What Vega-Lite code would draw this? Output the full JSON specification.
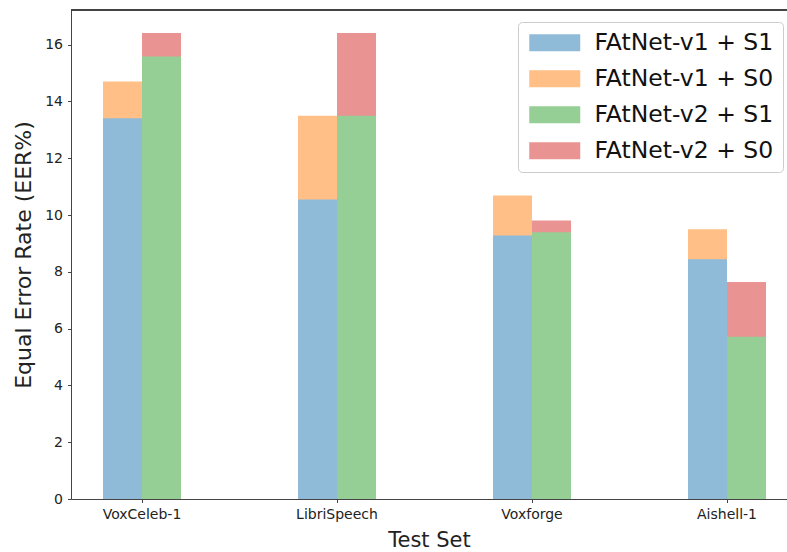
{
  "$schema": "https://vega.github.io/schema/vega-lite/v6.json",
  "autosize": "none",
  "width": 716,
  "height": 489,
  "padding": {"left": 71, "top": 10, "right": 0, "bottom": 53},
  "background": "white",
  "config": {
    "view": {"stroke": null},
    "font": "DejaVu Sans",
    "axis": {"grid": false, "domainColor": "#444", "domainWidth": 1, "tickColor": "#444", "tickSize": 3.5, "tickWidth": 1, "labelColor": "#222", "titleColor": "#222", "labelFont": "DejaVu Sans", "titleFont": "DejaVu Sans", "titleFontWeight": "normal"}
  },
  "data": {
    "values": [
      {"set": "VoxCeleb-1", "model": "v1", "config": "FAtNet-v1 + S0", "eer": 14.70},
      {"set": "VoxCeleb-1", "model": "v1", "config": "FAtNet-v1 + S1", "eer": 13.41},
      {"set": "VoxCeleb-1", "model": "v2", "config": "FAtNet-v2 + S0", "eer": 16.41},
      {"set": "VoxCeleb-1", "model": "v2", "config": "FAtNet-v2 + S1", "eer": 15.58},
      {"set": "LibriSpeech", "model": "v1", "config": "FAtNet-v1 + S0", "eer": 13.50},
      {"set": "LibriSpeech", "model": "v1", "config": "FAtNet-v1 + S1", "eer": 10.55},
      {"set": "LibriSpeech", "model": "v2", "config": "FAtNet-v2 + S0", "eer": 16.41},
      {"set": "LibriSpeech", "model": "v2", "config": "FAtNet-v2 + S1", "eer": 13.50},
      {"set": "Voxforge", "model": "v1", "config": "FAtNet-v1 + S0", "eer": 10.69},
      {"set": "Voxforge", "model": "v1", "config": "FAtNet-v1 + S1", "eer": 9.28},
      {"set": "Voxforge", "model": "v2", "config": "FAtNet-v2 + S0", "eer": 9.81},
      {"set": "Voxforge", "model": "v2", "config": "FAtNet-v2 + S1", "eer": 9.39},
      {"set": "Aishell-1", "model": "v1", "config": "FAtNet-v1 + S0", "eer": 9.50},
      {"set": "Aishell-1", "model": "v1", "config": "FAtNet-v1 + S1", "eer": 8.44},
      {"set": "Aishell-1", "model": "v2", "config": "FAtNet-v2 + S0", "eer": 7.64},
      {"set": "Aishell-1", "model": "v2", "config": "FAtNet-v2 + S1", "eer": 5.71}
    ]
  },
  "layer": [
    {
      "mark": {"type": "bar", "opacity": 1},
      "encoding": {
        "x": {
          "field": "set", "type": "nominal",
          "sort": ["VoxCeleb-1", "LibriSpeech", "Voxforge", "Aishell-1"],
          "scale": {"paddingInner": 0.6, "paddingOuter": 0.1359, "align": 0.604},
          "axis": {"title": "Test Set", "labelAngle": 0, "labelFontSize": 14, "labelPadding": 5, "titleFontSize": 21, "titlePadding": 8}
        },
        "xOffset": {"field": "model", "type": "nominal", "scale": {"domain": ["v1", "v2"], "paddingInner": 0, "paddingOuter": 0}},
        "y": {
          "field": "eer", "type": "quantitative", "stack": null,
          "scale": {"domain": [0, 17.22], "nice": false, "zero": true},
          "axis": {"title": "Equal Error Rate (EER%)", "values": [0, 2, 4, 6, 8, 10, 12, 14, 16], "labelFontSize": 14, "labelPadding": 5, "titleFontSize": 22, "titlePadding": 9}
        },
        "color": {
          "field": "config", "type": "nominal",
          "scale": {
            "domain": ["FAtNet-v1 + S1", "FAtNet-v1 + S0", "FAtNet-v2 + S1", "FAtNet-v2 + S0"],
            "range": ["#8fbbd9", "#ffbf86", "#95cf95", "#ea9393"]
          },
          "legend": {
            "title": null,
            "orient": "none",
            "legendX": 447,
            "legendY": 12,
            "padding": 9,
            "strokeColor": "#cccccc",
            "fillColor": "white",
            "cornerRadius": 4,
            "symbolType": "M-3,-1H3V1H-3Z",
            "symbolSize": 289,
            "symbolOffset": 16,
            "symbolOpacity": 1,
            "symbolStrokeWidth": 0,
            "labelFontSize": 23.5,
            "labelFont": "DejaVu Sans",
            "labelColor": "#111",
            "labelLimit": 0,
            "labelOffset": 28,
            "rowPadding": 11
          }
        }
      }
    },
    {
      "mark": {"type": "rule", "color": "#444", "strokeWidth": 1},
      "encoding": {"y": {"datum": 17.22}}
    }
  ]
}
